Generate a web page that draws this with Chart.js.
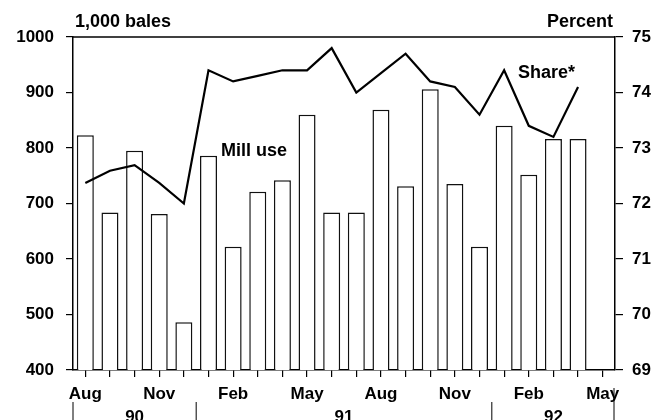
<!DOCTYPE html>
<html>
<head>
<meta charset="utf-8">
<script src="https://cdn.jsdelivr.net/npm/chart.js@4.4.0/dist/chart.umd.min.js"></script>
<style>
  html, body { margin: 0; padding: 0; background: #fff; }
  #wrap { width: 655px; height: 420px; position: relative; }
</style>
</head>
<body>
<div id="wrap"><canvas id="c" width="655" height="420"></canvas></div>
<script>
// ---- Data ----
const months = ['Aug','Sep','Oct','Nov','Dec','Jan','Feb','Mar','Apr','May','Jun','Jul',
                'Aug','Sep','Oct','Nov','Dec','Jan','Feb','Mar','Apr','May'];
const millUse = [823, 684, 795, 681, 486, 786, 622, 721, 742, 860, 684, 684,
                 869, 731, 906, 735, 622, 840, 752, 816, 816, null];
const share = [72.37, 72.59, 72.69, 72.37, 72.0, 74.4, 74.2, 74.3, 74.4, 74.4, 74.8, 74.0,
               74.35, 74.7, 74.2, 74.1, 73.6, 74.4, 73.4, 73.2, 74.1, null];
const years = [{label: '90', from: 0, to: 4}, {label: '91', from: 5, to: 16}, {label: '92', from: 17, to: 21}];
const leftTicks = [400, 500, 600, 700, 800, 900, 1000];
const rightTicks = [69, 70, 71, 72, 73, 74, 75];

const FONT = "'Liberation Sans', Arial, Helvetica, sans-serif";
const tickFont = {family: FONT, size: 17, weight: 'bold'};

const extras = {
  id: 'extras',
  afterDraw(chart) {
    const ctx = chart.ctx;
    const a = chart.chartArea;
    const xs = chart.scales.x;
    ctx.save();
    // top frame line
    ctx.strokeStyle = '#000';
    ctx.lineWidth = 1.5;
    ctx.beginPath();
    ctx.moveTo(a.left, a.top);
    ctx.lineTo(a.right, a.top);
    ctx.stroke();

    ctx.fillStyle = '#000';
    ctx.textBaseline = 'alphabetic';
    ctx.textAlign = 'left';
    ctx.font = "bold 18px " + FONT;
    ctx.fillText('1,000 bales', a.left + 2, 27);
    ctx.textAlign = 'right';
    ctx.fillText('Percent', a.right - 2, 27);

    // annotations
    ctx.font = "bold 18px " + FONT;
    ctx.textAlign = 'left';
    ctx.fillText('Mill use', 221, 156);
    ctx.fillText('Share*', 518, 78);

    // year labels and separators
    const half = (xs.getPixelForValue(1) - xs.getPixelForValue(0)) / 2;
    ctx.font = "bold 17px " + FONT;
    ctx.textAlign = 'center';
    ctx.lineWidth = 1;
    years.forEach((y, i) => {
      const x0 = xs.getPixelForValue(y.from) - half;
      const x1 = xs.getPixelForValue(y.to) + half;
      ctx.fillText(y.label, (x0 + x1) / 2, 422);
      ctx.beginPath();
      ctx.moveTo(x0, 402); ctx.lineTo(x0, 420);
      ctx.stroke();
      if (i === years.length - 1) {
        ctx.beginPath();
        ctx.moveTo(x1 - 1, 388); ctx.lineTo(x1 - 1, 420);
        ctx.stroke();
      }
    });
    ctx.restore();
  }
};

new Chart(document.getElementById('c'), {
  data: {
    labels: months,
    datasets: [
      {
        type: 'line',
        label: 'Share',
        data: share,
        yAxisID: 'y1',
        borderColor: '#000',
        borderWidth: 2.2,
        pointRadius: 0,
        tension: 0,
        fill: false,
        order: 1
      },
      {
        type: 'bar',
        label: 'Mill use',
        data: millUse,
        yAxisID: 'y',
        backgroundColor: '#fff',
        borderColor: '#111',
        borderWidth: 1.5,
        barPercentage: 0.69,
        categoryPercentage: 1,
        order: 2
      }
    ]
  },
  options: {
    responsive: false,
    animation: false,
    layout: {padding: {top: 37, left: 0, right: 0, bottom: 0}},
    plugins: {legend: {display: false}, tooltip: {enabled: false}},
    scales: {
      x: {
        type: 'category',
        offset: true,
        grid: {display: true, offset: false, drawOnChartArea: false, drawTicks: true, tickLength: 7, color: '#000', lineWidth: 1.2},
        border: {display: true, color: '#000', width: 1.5},
        ticks: {
          autoSkip: false, maxRotation: 0, minRotation: 0, padding: 7,
          color: '#000', font: tickFont,
          callback: (v, i) => (i % 3 === 0 ? months[i] : '')
        },
        afterFit(s) { s.height = 50; }
      },
      y: {
        position: 'left',
        min: 400, max: 1000,
        afterBuildTicks(s) { s.ticks = leftTicks.map(v => ({value: v})); },
        grid: {display: true, drawOnChartArea: false, drawTicks: true, tickLength: 7, color: '#000', lineWidth: 1.2},
        border: {display: true, color: '#000', width: 1.5},
        ticks: {color: '#000', font: tickFont, padding: 12, callback: v => String(v)},
        afterFit(s) { s.width = 73; }
      },
      y1: {
        position: 'right',
        min: 69, max: 75,
        afterBuildTicks(s) { s.ticks = rightTicks.map(v => ({value: v})); },
        grid: {display: true, drawOnChartArea: false, drawTicks: true, tickLength: 8, color: '#000', lineWidth: 1.2},
        border: {display: true, color: '#000', width: 1.5},
        ticks: {color: '#000', font: tickFont, padding: 9, callback: v => String(v)},
        afterFit(s) { s.width = 40; }
      }
    }
  },
  plugins: [extras]
});
</script>
</body>
</html>
